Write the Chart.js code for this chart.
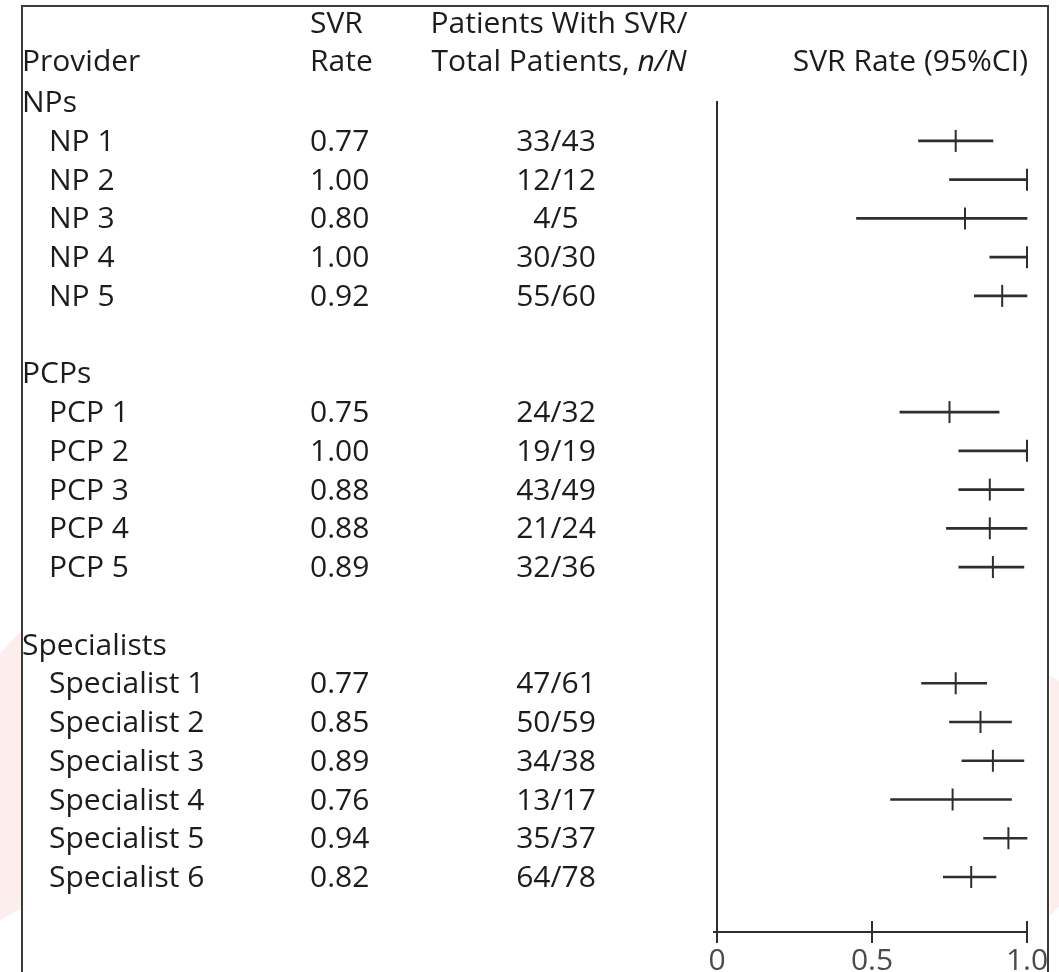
<!DOCTYPE html>
<html>
<head>
<meta charset="utf-8">
<script src="https://cdn.jsdelivr.net/npm/chart.js@4.4.1/dist/chart.umd.min.js"></script>
<style>
  html, body { margin: 0; padding: 0; background: #fff; overflow: hidden; }
  body { width: 1059px; height: 972px; position: relative; font-family: "Open Sans", sans-serif; color: #1c1c1c; }
  .pink { position: absolute; background: #fdeeee; }
  .frame { position: absolute; left: 21px; top: 5px; width: 1028px; height: 1000px; box-sizing: border-box;
           border: 2px solid #3a3a3a; border-bottom: none; }
  #wrap { position: absolute; left: 0; top: 0; width: 1059px; height: 1010px; }
  #labels { position: absolute; left: 0; top: 0; width: 1059px; height: 972px; }
  .txt { position: absolute; font-size: 30px; font-weight: 500; line-height: 36px; white-space: nowrap; }
  .center { transform: translateX(-50%); }
  .right { transform: translateX(-100%); }
</style>
</head>
<body>
<div class="pink" style="left:0;top:630px;width:22px;height:290px;clip-path:polygon(100% 0,0 8%,0 100%,100% 96%);"></div>
<div class="pink" style="left:1050px;top:676px;width:9px;height:240px;clip-path:polygon(0 0,100% 2%,100% 96%,0 100%);"></div>
<div class="frame"></div>
<div id="wrap"><canvas id="forest" width="1059" height="1010"></canvas></div>
<div id="labels"></div>
<script>
// provider groups and rows
const groupNames = ['NPs', 'PCPs', 'Specialists'];
const providerGroup = [0, 0, 0, 0, 0, 1, 1, 1, 1, 1, 2, 2, 2, 2, 2, 2];
const providerNames = ['NP 1', 'NP 2', 'NP 3', 'NP 4', 'NP 5',
    'PCP 1', 'PCP 2', 'PCP 3', 'PCP 4', 'PCP 5',
    'Specialist 1', 'Specialist 2', 'Specialist 3', 'Specialist 4', 'Specialist 5', 'Specialist 6'];

// SVR rates and counts
const svrRates = [0.77, 1.00, 0.80, 1.00, 0.92, 0.75, 1.00, 0.88, 0.88, 0.89, 0.77, 0.85, 0.89, 0.76, 0.94, 0.82];
const patientsWithSvr = [33, 12, 4, 30, 55, 24, 19, 43, 21, 32, 47, 50, 34, 13, 35, 64];
const totalPatients = [43, 12, 5, 30, 60, 32, 19, 49, 24, 36, 61, 59, 38, 17, 37, 78];

// 95% CI
const ciLower = [0.65, 0.75, 0.45, 0.88, 0.83, 0.59, 0.78, 0.78, 0.74, 0.78, 0.66, 0.75, 0.79, 0.56, 0.86, 0.73];
const ciUpper = [0.89, 1.00, 1.00, 1.00, 1.00, 0.91, 1.00, 0.99, 1.00, 0.99, 0.87, 0.95, 0.99, 0.95, 1.00, 0.90];

const xTicks = [0, 0.5, 1.0];
const xTickLabels = ['0', '0.5', '1.0'];

const lineColor = '#2e2e2e';
const fontFamily = '"Open Sans", sans-serif';

// work out which row each provider / group header sits on
const groupRow = [];
const providerRow = [];
let row = 0;
groupNames.forEach((g, gi) => {
    groupRow.push(row);
    row++;
    providerGroup.forEach((pg, i) => {
        if (pg === gi) {
            providerRow.push(row);
            row++;
        }
    });
    row++; // blank line between groups
});

// y axis line, x axis line and ticks that cross it
const forestAxes = {
    id: 'forestAxes',
    afterDatasetsDraw(chart) {
        const {ctx, chartArea, scales: {x}} = chart;
        const x0 = x.getPixelForValue(0);
        const bottom = chartArea.bottom;
        ctx.save();
        ctx.strokeStyle = lineColor;
        ctx.lineWidth = 2;
        ctx.beginPath();
        ctx.moveTo(x0, chartArea.top);
        ctx.lineTo(x0, bottom);
        ctx.moveTo(x0 - 4, bottom);
        ctx.lineTo(x.getPixelForValue(1), bottom);
        x.ticks.forEach(t => {
            const px = x.getPixelForValue(t.value);
            ctx.moveTo(px, bottom - 11);
            ctx.lineTo(px, bottom + 11);
        });
        ctx.stroke();
        ctx.restore();
    }
};

const chart = new Chart(document.getElementById('forest'), {
    type: 'bar',
    data: {
        datasets: [{
            type: 'bar',
            indexAxis: 'y',
            data: providerNames.map((_, i) => ({x: [ciLower[i], ciUpper[i]], y: providerRow[i]})),
            backgroundColor: lineColor,
            borderWidth: 0,
            barThickness: 2,
            clip: false
        }, {
            type: 'scatter',
            data: providerNames.map((_, i) => ({x: svrRates[i], y: providerRow[i]})),
            pointStyle: 'line',
            rotation: 90,
            radius: 11,
            borderWidth: 2,
            borderColor: lineColor,
            backgroundColor: lineColor,
            clip: false
        }]
    },
    options: {
        responsive: false,
        animation: false,
        layout: {
            padding: {left: 717, right: 32, top: 101, bottom: 30}
        },
        scales: {
            x: {
                type: 'linear',
                position: 'bottom',
                offset: false,
                min: 0,
                max: 1,
                afterBuildTicks: axis => { axis.ticks = xTicks.map(v => ({value: v})); },
                afterFit: axis => { axis.paddingLeft = 0; axis.paddingRight = 0; },
                grid: {display: false, drawTicks: false, offset: false},
                border: {display: false},
                ticks: {
                    padding: 11,
                    color: '#4a4a4a',
                    font: {family: fontFamily, size: 30},
                    callback: v => xTickLabels[xTicks.indexOf(v)]
                }
            },
            y: {
                type: 'linear',
                reverse: true,
                offset: false,
                min: -0.03,
                max: 21.42,
                display: false
            }
        },
        plugins: {
            legend: {display: false},
            tooltip: {enabled: false}
        }
    },
    plugins: [forestAxes]
});

// nudge the plot box so its edges land where the figure has them
const pad = chart.options.layout.padding;
pad.bottom += chart.chartArea.bottom - 932;
pad.top += 101 - chart.chartArea.top;
pad.left += 717 - chart.chartArea.left;
pad.right += chart.chartArea.right - 1027;
chart.update();

// table text, placed on the chart's own row scale
const labels = document.getElementById('labels');
function addText(html, left, rowIndex, cls, dy) {
    const el = document.createElement('div');
    el.className = 'txt' + (cls ? ' ' + cls : '');
    el.innerHTML = html;
    el.style.left = left + 'px';
    el.style.top = (chart.scales.y.getPixelForValue(rowIndex) - 19 + (dy || 0)) + 'px';
    labels.appendChild(el);
}

// header (two lines above the first row)
addText('SVR', 310, -2, '', -2);
addText('Patients With SVR/', 559, -2, 'center', -2);
addText('Provider', 22, -1, '', -2);
addText('Rate', 310, -1, '', -2);
addText('Total Patients, <i>n/N</i>', 559, -1, 'center', -2);
addText('SVR Rate (95%CI)', 1028, -1, 'right', -2);

groupNames.forEach((g, gi) => addText(g, 22, groupRow[gi]));
providerNames.forEach((p, i) => {
    addText(p, 49, providerRow[i]);
    addText(svrRates[i].toFixed(2), 310, providerRow[i]);
    addText(patientsWithSvr[i] + '/' + totalPatients[i], 556, providerRow[i], 'center');
});
</script>
</body>
</html>
